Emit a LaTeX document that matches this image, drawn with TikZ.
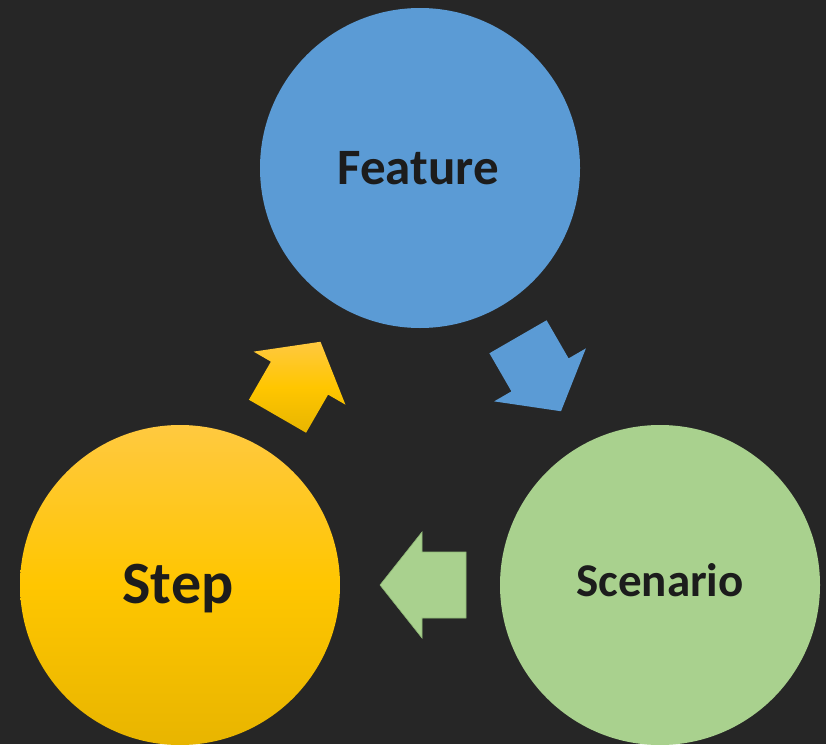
\documentclass[tikz,border=0pt]{standalone}
\usepackage{fontspec}
\setmainfont{Carlito}
\definecolor{bg}{HTML}{262626}
\definecolor{featblue}{HTML}{5B9BD5}
\definecolor{scengreen}{HTML}{A9D18E}
\definecolor{scenedge}{HTML}{8FB876}
\definecolor{goldtop}{HTML}{FFC940}
\definecolor{goldmid}{HTML}{FFC600}
\definecolor{goldbot}{HTML}{E8B500}
\definecolor{txt}{HTML}{1C1C1C}
\tikzset{
  bubble/.style={circle, minimum size=320pt, inner sep=0pt},
  label/.style={text=txt, anchor=base, inner sep=0pt},
  pics/blockarrow/.style={code={
    \path[pic actions] (-43,-33) -- (1,-33) -- (1,-53) -- (43,0) -- (1,53) -- (1,33) -- (-43,33) -- cycle;
  }}
}
\begin{document}
\begin{tikzpicture}[x=1pt,y=-1pt]
\fill[bg] (0,0) rectangle (826,744);
\useasboundingbox (0,0) rectangle (826,744);
% circles
\node[bubble, fill=featblue] (feature) at (420,168) {};
\node[bubble, fill=scengreen] (scenario) at (660,585) {};
\shade[top color=goldtop, bottom color=goldbot, middle color=goldmid] (180,585) circle[radius=160];
\node[bubble] (step) at (180,585) {};
% labels
\node[label, font=\fontsize{51}{60}\selectfont\bfseries] (featuretext) at (418,184) {Feature};
\node[label, font=\fontsize{47}{56}\selectfont\bfseries] (scenariotext) at (660,596) {Scenario};
\node[label, font=\fontsize{60}{70}\selectfont\bfseries] (steptext) at (178,603) {Step};
% block arrows
\pic[fill=featblue, rotate=-60] at (539.5,374) {blockarrow};
\pic[fill=scengreen, draw=scenedge, line width=0.6pt, rotate=180] at (423,585) {blockarrow};
\pic[top color=goldtop, bottom color=goldbot, middle color=goldmid, rotate=60] at (299,379) {blockarrow};
\end{tikzpicture}
\end{document}
